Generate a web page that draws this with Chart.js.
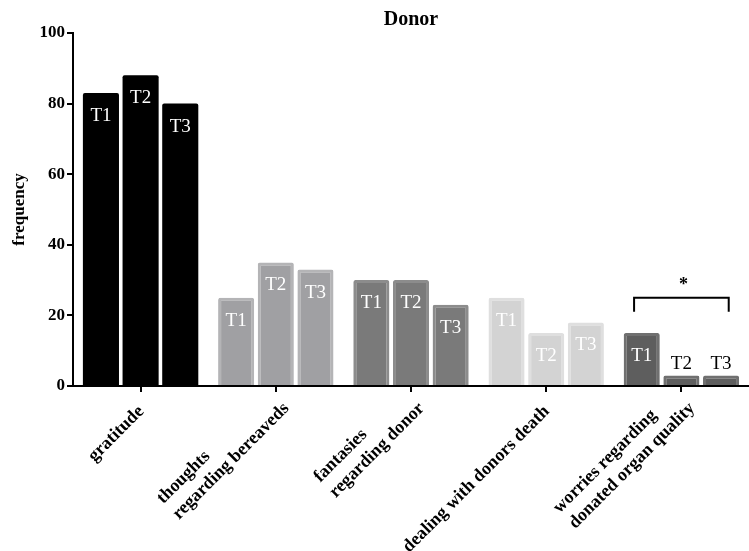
<!DOCTYPE html>
<html>
<head>
<meta charset="utf-8">
<script src="https://cdn.jsdelivr.net/npm/chart.js@4/dist/chart.umd.min.js"></script>
<style>
  html, body { margin: 0; padding: 0; background: #ffffff; }
  #wrap { width: 749px; height: 551px; }
</style>
</head>
<body>
<div id="wrap"><canvas id="chart" width="749" height="551"></canvas></div>
<script>
// Categories (multi-line labels) and the three measurement times
const categories = [
  ['gratitude'],
  ['thoughts', 'regarding bereaveds'],
  ['fantasies', 'regarding donor'],
  ['dealing with donors death'],
  ['worries regarding', 'donated organ quality']
];
const seriesNames = ['T1', 'T2', 'T3'];
const t1Values = [83, 25, 30, 25, 15];
const t2Values = [88, 35, 30, 15, 3];
const t3Values = [80, 33, 23, 18, 3];
const yTickValues = [0, 20, 40, 60, 80, 100];

// One grey shade per category (fill and slightly lighter outline)
const categoryFill = ['#000000', '#a0a0a3', '#7a7a7a', '#d3d3d3', '#5e5e5e'];
const categoryEdge = ['#000000', '#b4b4b6', '#8c8c8c', '#dfdfdf', '#707070'];
const categoryEdgeWidth = [0, 3, 3, 3, 3];

const SERIF = '"Liberation Serif", "Times New Roman", serif';
Chart.defaults.font.family = SERIF;
Chart.defaults.color = '#000000';

// T1/T2/T3 written inside each bar (or just above it when the bar is too short)
const barLabels = {
  id: 'barLabels',
  afterDatasetsDraw(chart) {
    const ctx = chart.ctx;
    ctx.save();
    ctx.font = '19px ' + SERIF;
    ctx.textAlign = 'center';
    ctx.textBaseline = 'alphabetic';
    chart.data.datasets.forEach((ds, i) => {
      chart.getDatasetMeta(i).data.forEach((bar) => {
        const h = bar.base - bar.y;
        if (h > 30) {
          ctx.fillStyle = '#ffffff';
          ctx.fillText(ds.label, bar.x, bar.y + 28);
        } else {
          ctx.fillStyle = '#000000';
          ctx.fillText(ds.label, bar.x, bar.y - 6);
        }
      });
    });
    ctx.restore();
  }
};

// Rotated category names, lines left-aligned, ending at the tick
const categoryLabels = {
  id: 'categoryLabels',
  afterDraw(chart) {
    const ctx = chart.ctx;
    const xs = chart.scales.x;
    const lineH = 22;
    ctx.save();
    ctx.font = 'bold 18px ' + SERIF;
    ctx.fillStyle = '#000000';
    ctx.textAlign = 'left';
    ctx.textBaseline = 'alphabetic';
    chart.data.labels.forEach((lines, i) => {
      const n = lines.length;
      const tx = xs.getPixelForTick(i);
      const ax = tx + (n > 1 ? 14 : 4);
      const ay = xs.top + (n > 1 ? 23 : 26);
      const maxW = Math.max(...lines.map(l => ctx.measureText(l).width));
      ctx.save();
      ctx.translate(ax, ay);
      ctx.rotate(-Math.PI / 4);
      lines.forEach((line, k) => {
        ctx.fillText(line, -maxW, -(n - 1 - k) * lineH);
      });
      ctx.restore();
    });
    ctx.restore();
  }
};

// Significance bracket over the last group
const significance = {
  id: 'significance',
  afterDatasetsDraw(chart) {
    const ctx = chart.ctx;
    const xs = chart.scales.x, ys = chart.scales.y;
    const cx = xs.getPixelForTick(4);
    const half = (xs.right - xs.left) / categories.length * 0.35;
    const yTop = ys.getPixelForValue(25);
    const yBot = ys.getPixelForValue(21);
    ctx.save();
    ctx.strokeStyle = '#000000';
    ctx.lineWidth = 2;
    ctx.beginPath();
    ctx.moveTo(cx - half, yBot);
    ctx.lineTo(cx - half, yTop);
    ctx.lineTo(cx + half, yTop);
    ctx.lineTo(cx + half, yBot);
    ctx.stroke();
    ctx.font = 'bold 18px ' + SERIF;
    ctx.fillStyle = '#000000';
    ctx.textAlign = 'center';
    ctx.textBaseline = 'alphabetic';
    ctx.fillText('*', cx + 2, ys.getPixelForValue(30) + 10);
    ctx.restore();
  }
};

const seriesValues = [t1Values, t2Values, t3Values];

new Chart(document.getElementById('chart'), {
  type: 'bar',
  data: {
    labels: categories,
    datasets: seriesNames.map((name, i) => ({
      label: name,
      data: seriesValues[i],
      backgroundColor: categoryFill,
      borderColor: categoryEdge,
      borderWidth: categoryEdgeWidth,
      borderRadius: 2,
      categoryPercentage: 0.88,
      barPercentage: 0.91
    }))
  },
  options: {
    responsive: false,
    animation: false,
    layout: { padding: { left: 0, right: 0, top: 0, bottom: 0 } },
    plugins: {
      legend: { display: false },
      tooltip: { enabled: false },
      title: {
        display: true,
        text: 'Donor',
        fullSize: false,
        color: '#000000',
        font: { family: SERIF, size: 20, weight: 'bold' },
        padding: { top: 8, bottom: 1 }
      }
    },
    scales: {
      x: {
        offset: true,
        grid: {
          display: true,
          drawOnChartArea: false,
          drawTicks: true,
          tickLength: 6,
          offset: false,
          color: '#000000',
          lineWidth: 2
        },
        border: { display: true, color: '#000000', width: 2 },
        ticks: { display: false },
        afterFit(scale) { scale.height = 165; }
      },
      y: {
        min: 0,
        max: 100,
        afterBuildTicks(scale) { scale.ticks = yTickValues.map(v => ({ value: v })); },
        grid: {
          display: true,
          drawOnChartArea: false,
          drawTicks: true,
          tickLength: 6,
          color: '#000000',
          lineWidth: 2
        },
        border: { display: true, color: '#000000', width: 2 },
        ticks: {
          padding: 2,
          color: '#000000',
          font: { family: SERIF, size: 17, weight: 'bold' }
        },
        title: {
          display: true,
          text: 'frequency',
          color: '#000000',
          font: { family: SERIF, size: 17, weight: 'bold' },
          padding: { top: 9, bottom: 0 }
        },
        afterFit(scale) { scale.width = 73; }
      }
    }
  },
  plugins: [barLabels, categoryLabels, significance]
});
</script>
</body>
</html>
